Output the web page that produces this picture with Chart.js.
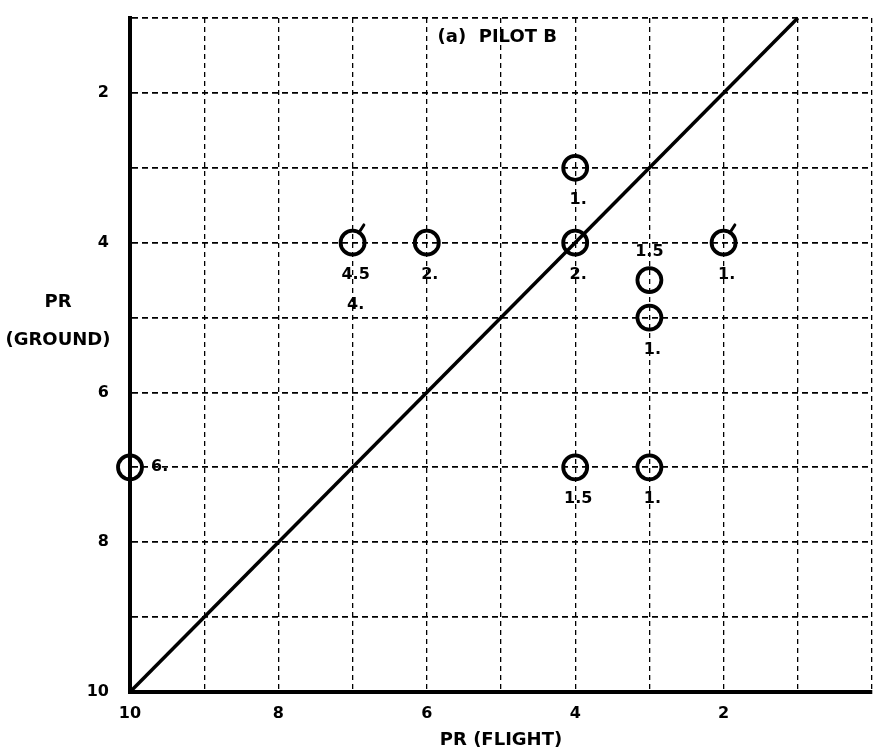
<!DOCTYPE html>
<html>
<head>
<meta charset="utf-8">
<title>Pilot B - PR ground vs flight</title>
<script src="https://cdn.jsdelivr.net/npm/chart.js@4.4.1/dist/chart.umd.min.js"></script>
<style>
  html, body { margin: 0; padding: 0; background: #fff; }
</style>
</head>
<body>
<canvas id="mycanvas" width="875" height="753"></canvas>
<script>
// pilot ratings: flight (x) against ground simulator (y)
var flightPR = [4, 7, 6, 4, 2, 3, 3, 4, 3, 10];
var groundPR = [3, 4, 4, 4, 4, 4.5, 5, 7, 7, 7];
var pointNotes = [['1.'], ['4.5', '4.'], ['2.'], ['2.'], ['1.'], ['1.5'], ['1.'], ['1.5'], ['1.'], ['6.']];
var flagged = [false, true, false, false, true, false, false, false, false, false];

// line of equal ratings
var equalLine = [10, 1];

var xTickLabels = [10, 8, 6, 4, 2];
var yTickLabels = [2, 4, 6, 8, 10];

var FONT = '"DejaVu Sans", "Liberation Sans", sans-serif';

// where each note sits relative to its circle (default below)
var notePlace = { 5: 'above', 9: 'right' };

var points = [];
for (var i in flightPR) {
	points.push({ x: flightPR[i], y: groundPR[i] });
}

var extras = {
	id: 'extras',
	afterDatasetsDraw: function(chart) {
		var ctx = chart.ctx;
		var meta = chart.getDatasetMeta(1);
		ctx.save();
		ctx.strokeStyle = '#000';
		ctx.fillStyle = '#000';
		ctx.lineWidth = 3;
		ctx.lineCap = 'round';

		// flag ticks on circles
		for (var i = 0; i < meta.data.length; i++) {
			if (!flagged[i]) continue;
			var p = meta.data[i];
			var a = -Math.PI * 0.32;
			ctx.beginPath();
			ctx.moveTo(p.x + Math.cos(a) * 12, p.y + Math.sin(a) * 12);
			ctx.lineTo(p.x + Math.cos(a) * 21, p.y + Math.sin(a) * 21);
			ctx.stroke();
		}

		// notes by each circle
		ctx.font = 'bold 16px ' + FONT;
		ctx.textBaseline = 'middle';
		for (var j = 0; j < meta.data.length; j++) {
			var q = meta.data[j];
			var notes = pointNotes[j];
			var place = notePlace[j] || 'below';
			for (var k = 0; k < notes.length; k++) {
				if (place === 'right') {
					ctx.textAlign = 'left';
					ctx.fillText(notes[k], q.x + 21, q.y);
				} else if (place === 'above') {
					ctx.textAlign = 'center';
					ctx.fillText(notes[k], q.x, q.y - 28);
				} else {
					ctx.textAlign = 'center';
					ctx.fillText(notes[k], q.x + 3, q.y + 32 + k * 30);
				}
			}
		}
		ctx.restore();
	},
	afterDraw: function(chart) {
		var ctx = chart.ctx;
		var xs = chart.scales.x;
		var ys = chart.scales.y;
		ctx.save();
		ctx.fillStyle = '#000';
		ctx.textBaseline = 'middle';
		ctx.textAlign = 'center';
		ctx.font = 'bold 18px ' + FONT;
		ctx.fillText('(a)  PILOT B', xs.getPixelForValue(5.05), ys.getPixelForValue(1.26));
		ctx.fillText('PR', 58, ys.getPixelForValue(4.8));
		ctx.fillText('(GROUND)', 58, ys.getPixelForValue(5.3));
		ctx.restore();
	}
};

var ctx = document.getElementById('mycanvas').getContext('2d');

var chart = new Chart(ctx, {
	type: 'scatter',
	data: {
		datasets: [
			{
				type: 'line',
				data: [{ x: equalLine[0], y: equalLine[0] }, { x: equalLine[1], y: equalLine[1] }],
				borderColor: '#000',
				borderWidth: 3.5,
				pointRadius: 0,
				fill: false,
				clip: false
			},
			{
				data: points,
				pointRadius: 12,
				pointHoverRadius: 12,
				pointBorderWidth: 3.8,
				pointBorderColor: '#000',
				pointBackgroundColor: 'rgba(0,0,0,0)',
				clip: false
			}
		]
	},
	options: {
		responsive: false,
		animation: false,
		layout: { autoPadding: false, padding: { left: 0, right: 3, top: 18, bottom: 0 } },
		plugins: {
			legend: { display: false },
			tooltip: { enabled: false }
		},
		scales: {
			x: {
				type: 'linear',
				min: 0,
				max: 10,
				reverse: true,
				afterFit: function(s) {
					s.height = 61;
					s.paddingLeft = 0;
					s.paddingRight = 0;
				},
				grid: { color: '#000', lineWidth: 1.3, drawTicks: false },
				border: { display: true, color: '#000', width: 4, dash: [5, 4] },
				ticks: {
					stepSize: 1,
					autoSkip: false,
					maxRotation: 0,
					padding: 12,
					color: '#000',
					font: { family: FONT, size: 16, weight: 'bold' },
					callback: function(v) { return xTickLabels.indexOf(v) >= 0 ? String(v) : ''; }
				},
				title: {
					display: true,
					text: 'PR (FLIGHT)',
					color: '#000',
					font: { family: FONT, size: 18, weight: 'bold' },
					padding: { top: 0, bottom: 2 }
				}
			},
			y: {
				type: 'linear',
				min: 1,
				max: 10,
				reverse: true,
				afterFit: function(s) {
					s.width = 130;
					s.paddingTop = 0;
					s.paddingBottom = 0;
				},
				grid: { color: '#000', lineWidth: 1.8, drawTicks: false },
				border: { display: true, color: '#000', width: 4, dash: [6, 4] },
				ticks: {
					stepSize: 1,
					autoSkip: false,
					padding: 21,
					color: '#000',
					font: { family: FONT, size: 16, weight: 'bold' },
					callback: function(v) { return yTickLabels.indexOf(v) >= 0 ? String(v) : ''; }
				}
			}
		}
	},
	plugins: [extras]
});
</script>
</body>
</html>
